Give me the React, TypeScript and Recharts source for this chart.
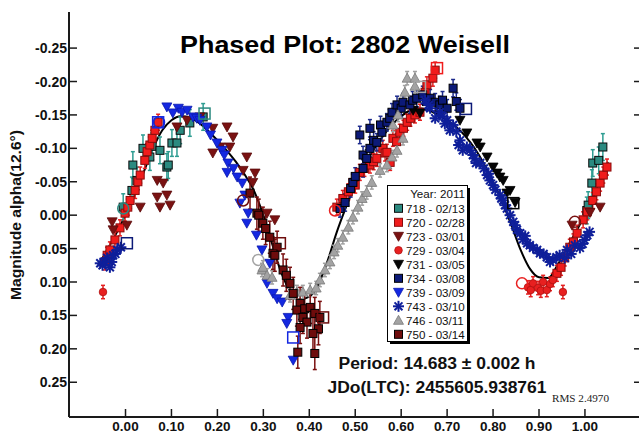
import React from 'react';
import { ComposedChart, Scatter, Line, XAxis, YAxis, ErrorBar } from 'recharts';

type P = [number, number];

const xTicks = [0, 0.1, 0.2, 0.3, 0.4, 0.5, 0.6, 0.7, 0.8, 0.9, 1.0];
const yTicks = [-0.25, -0.2, -0.15, -0.1, -0.05, 0, 0.05, 0.1, 0.15, 0.2, 0.25];
const xDomain: [number, number] = [-0.123, 1.122];
const yDomain: [number, number] = [-0.304, 0.302];

const fitCurve: P[] = [
  [-0.05, 0.064], [-0.04, 0.052], [-0.02, 0.027], [0, 0], [0.02, -0.03], [0.04, -0.065], [0.06, -0.1],
  [0.08, -0.127], [0.1, -0.142], [0.12, -0.148], [0.14, -0.146], [0.16, -0.138], [0.18, -0.126],
  [0.2, -0.112], [0.22, -0.097], [0.24, -0.08], [0.26, -0.06], [0.28, -0.036], [0.3, 0.0],
  [0.32, 0.045], [0.34, 0.088], [0.36, 0.115], [0.38, 0.126], [0.4, 0.122], [0.42, 0.103],
  [0.44, 0.068], [0.46, 0.025], [0.48, -0.012], [0.5, -0.045], [0.52, -0.073], [0.54, -0.098],
  [0.56, -0.118], [0.58, -0.135], [0.6, -0.148], [0.62, -0.157], [0.64, -0.16], [0.66, -0.157],
  [0.68, -0.15], [0.7, -0.142], [0.72, -0.132], [0.74, -0.118], [0.76, -0.1], [0.78, -0.077],
  [0.8, -0.05], [0.82, -0.02], [0.84, 0.015], [0.86, 0.052], [0.88, 0.08], [0.9, 0.093],
  [0.92, 0.094], [0.94, 0.075], [0.96, 0.05], [0.98, 0.025], [1.0, 0.0], [1.02, -0.03],
  [1.04, -0.065], [1.05, -0.08],
];

const s718: P[] = [
  [-0.005, -0.012], [0.014, -0.037], [0.025, -0.052], [0.016, -0.075], [0.038, -0.1], [0.053, -0.087],
  [0.058, -0.103], [0.075, -0.097], [0.09, -0.072], [0.093, -0.075], [0.101, -0.108], [0.112, -0.108],
  [0.119, -0.127], [0.14, -0.138], [0.169, -0.147], [1.004, -0.007], [1.007, -0.015], [1.015, -0.048],
  [1.017, -0.078], [1.03, -0.082], [1.039, -0.102],
];
const s720: P[] = [
  [-0.045, 0.07], [-0.04, 0.06], [-0.034, 0.052], [-0.023, 0.037], [-0.012, 0.019], [-0.001, -0.003],
  [0.005, -0.012], [0.01, -0.022], [0.021, -0.037], [0.027, -0.05], [0.032, -0.06], [0.042, -0.082],
  [0.047, -0.095], [0.053, -0.105], [0.058, -0.115], [0.064, -0.127], [0.071, -0.139],
  [0.46, -0.012], [0.473, -0.025], [0.485, -0.035], [0.495, -0.049], [0.5, -0.045], [0.51, -0.064],
  [0.52, -0.07], [0.532, -0.075], [0.54, -0.08], [0.547, -0.085], [0.56, -0.1], [0.565, -0.093],
  [0.569, -0.094], [0.576, -0.079], [0.582, -0.115], [0.59, -0.11], [0.597, -0.124], [0.605, -0.13],
  [0.613, -0.139], [0.62, -0.145], [0.63, -0.15], [0.641, -0.154], [0.652, -0.184], [0.656, -0.195],
  [0.669, -0.205], [0.674, -0.217],
  [0.939, 0.087], [0.948, 0.078], [0.956, 0.064], [0.967, 0.048], [0.975, 0.04], [0.983, 0.027],
  [0.996, 0.007], [1.005, -0.005], [1.017, -0.022], [1.025, -0.035], [1.033, -0.048], [1.04, -0.06],
  [1.048, -0.072],
];
const s723: P[] = [
  [-0.029, 0.01], [-0.027, 0.022], [0.003, 0.015], [0.032, -0.012], [0.069, -0.052], [0.082, -0.048],
  [0.069, -0.027], [0.09, -0.03], [0.075, -0.012], [0.097, -0.015], [0.112, -0.132], [0.134, -0.142],
  [0.162, -0.147], [0.19, -0.13], [0.221, -0.132], [0.234, -0.117], [0.227, -0.102], [0.206, -0.102],
  [0.19, -0.093], [0.264, -0.087], [0.256, -0.067], [0.282, -0.063], [0.277, -0.049], [0.308, -0.003],
  [0.325, 0.007], [0.972, 0.015], [1.011, -0.004], [1.033, -0.012],
];
const s729: P[] = [
  [0.876, 0.108], [0.882, 0.112], [0.887, 0.102], [0.898, 0.109], [0.904, 0.113], [0.909, 0.1],
  [0.917, 0.112], [0.924, 0.103], [0.93, 0.097], [0.952, 0.115], [-0.049, 0.115],
];
const s731: P[] = [
  [0.626, -0.157], [0.641, -0.153], [0.684, -0.15], [0.728, -0.142], [0.743, -0.123], [0.765, -0.108],
  [0.772, -0.102], [0.787, -0.087], [0.8, -0.072], [0.809, -0.063], [0.815, -0.057], [0.822, -0.052],
  [0.837, -0.037], [0.83, -0.033], [0.848, -0.019],
];
const s734: P[] = [
  [0.467, -0.01], [0.478, -0.019], [0.49, -0.04], [0.495, -0.049], [0.5, -0.058], [0.517, -0.07],
  [0.517, -0.09], [0.525, -0.085], [0.532, -0.1], [0.51, -0.12], [0.54, -0.112], [0.547, -0.109],
  [0.532, -0.13], [0.555, -0.135], [0.558, -0.124], [0.569, -0.139], [0.575, -0.145], [0.58, -0.154],
  [0.591, -0.165], [0.6, -0.16], [0.604, -0.169], [0.619, -0.165], [0.625, -0.172], [0.634, -0.175],
  [0.647, -0.18], [0.655, -0.17], [0.663, -0.175], [0.674, -0.169], [0.684, -0.165], [0.69, -0.172],
  [0.7, -0.16], [0.713, -0.19], [0.72, -0.17], [0.728, -0.16],
];
const s739: P[] = [
  [0.09, -0.162], [0.103, -0.153], [0.115, -0.16], [0.123, -0.154], [0.134, -0.157], [0.147, -0.147],
  [0.155, -0.145], [0.162, -0.142], [0.177, -0.132], [0.185, -0.12], [0.199, -0.108], [0.21, -0.097],
  [0.215, -0.09], [0.223, -0.078], [0.221, -0.064], [0.235, -0.07], [0.243, -0.057], [0.254, -0.048],
  [0.249, -0.018], [0.26, -0.03], [0.267, -0.003], [0.264, 0.012], [0.285, 0.03], [0.297, 0.052],
  [0.314, 0.072], [0.308, 0.102], [0.321, 0.117], [0.33, 0.125], [0.341, 0.13], [0.354, 0.153],
  [0.351, 0.162], [0.365, 0.217],
];
const s743: P[] = [
  [-0.055, 0.072], [-0.05, 0.075], [-0.045, 0.07], [-0.04, 0.064], [-0.034, 0.078], [-0.03, 0.07],
  [-0.027, 0.06], [-0.022, 0.058], [-0.018, 0.052], [-0.01, 0.048],
  [0.652, -0.172], [0.66, -0.165], [0.663, -0.16], [0.674, -0.145], [0.684, -0.154], [0.69, -0.148],
  [0.695, -0.137], [0.7, -0.142], [0.706, -0.127], [0.713, -0.135], [0.72, -0.125], [0.725, -0.105],
  [0.728, -0.112], [0.734, -0.097], [0.743, -0.102], [0.75, -0.097], [0.756, -0.09], [0.76, -0.085],
  [0.763, -0.078], [0.772, -0.078], [0.78, -0.07], [0.787, -0.06], [0.79, -0.062], [0.793, -0.052],
  [0.8, -0.045], [0.805, -0.038], [0.815, -0.03], [0.818, -0.025], [0.822, -0.022], [0.826, -0.015],
  [0.83, -0.01], [0.837, 0.0], [0.844, 0.01], [0.848, 0.015], [0.852, 0.022], [0.859, 0.027],
  [0.865, 0.036], [0.87, 0.031], [0.874, 0.042], [0.88, 0.045], [0.887, 0.049], [0.896, 0.052],
  [0.902, 0.057], [0.91, 0.058], [0.917, 0.063], [0.924, 0.07], [0.93, 0.067], [0.938, 0.063],
  [0.945, 0.06], [0.956, 0.064], [0.961, 0.052], [0.97, 0.058], [0.978, 0.045], [0.989, 0.049],
  [0.995, 0.043], [0.999, 0.037], [1.005, 0.03], [1.01, 0.025],
];
const s746: P[] = [
  [0.297, 0.082], [0.299, 0.078], [0.308, 0.09], [0.319, 0.093], [0.358, 0.12], [0.373, 0.115],
  [0.386, 0.115], [0.402, 0.112], [0.415, 0.109], [0.423, 0.097], [0.434, 0.082], [0.445, 0.07],
  [0.454, 0.055], [0.462, 0.045], [0.473, 0.033], [0.485, 0.018], [0.495, 0.003], [0.506, -0.012],
  [0.515, -0.025], [0.525, -0.034], [0.536, -0.049], [0.554, -0.067], [0.569, -0.075], [0.58, -0.087],
  [0.582, -0.135], [0.591, -0.097], [0.593, -0.15], [0.604, -0.115], [0.608, -0.184], [0.613, -0.205],
  [0.63, -0.205], [0.63, -0.193],
];
const s750: P[] = [
  [0.271, -0.033], [0.286, -0.003], [0.29, 0.0], [0.299, 0.012], [0.305, 0.02], [0.314, 0.033],
  [0.33, 0.048], [0.321, 0.057], [0.325, 0.06], [0.343, 0.082], [0.35, 0.09], [0.358, 0.102],
  [0.365, 0.117], [0.38, 0.132], [0.373, 0.142], [0.386, 0.153], [0.39, 0.14], [0.395, 0.16],
  [0.402, 0.138], [0.412, 0.147], [0.423, 0.153], [0.42, 0.17], [0.38, 0.168], [0.408, 0.177],
  [0.375, 0.205], [0.412, 0.207],
];

// session-start markers (hollow symbols)
const openCircles = [
  { s: '718', x: -0.005, y: -0.01 }, { s: '729', x: 0.863, y: 0.102 }, { s: '729', x: 0.456, y: -0.007 },
  { s: '723', x: 0.978, y: 0.01 }, { s: '750', x: 0.256, y: -0.022 }, { s: '746', x: 0.289, y: 0.067 },
  { s: '739', x: 0.073, y: -0.139 },
];
const openSquares = [
  { s: '720', x: 0.678, y: -0.22 }, { s: '731', x: 0.844, y: -0.018 }, { s: '734', x: 0.003, y: 0.042 },
  { s: '734', x: 0.741, y: -0.159 }, { s: '739', x: 0.365, y: 0.183 }, { s: '746', x: 0.641, y: -0.192 },
  { s: '750', x: 0.336, y: 0.042 }, { s: '750', x: 0.43, y: 0.153 }, { s: '739', x: 0.071, y: -0.139 },
  { s: '718', x: 0.172, y: -0.152 },
];

type Kind = 'sq' | 'td' | 'tu' | 'ci' | 'as';
interface Cfg { id: string; label: string; pts: P[]; kind: Kind; fill: string; stroke: string; err?: number; errColor?: string; }

const SERIES: Cfg[] = [
  { id: '718', label: '718 - 02/13', pts: s718, kind: 'sq', fill: '#2b8a80', stroke: '#0a0a0a', err: 0.02, errColor: '#2f9d92' },
  { id: '720', label: '720 - 02/28', pts: s720, kind: 'sq', fill: '#f01c1c', stroke: '#8a0c0c', err: 0.012, errColor: '#e52020' },
  { id: '723', label: '723 - 03/01', pts: s723, kind: 'td', fill: '#7a1212', stroke: '#5a0a0a' },
  { id: '729', label: '729 - 03/04', pts: s729, kind: 'ci', fill: '#e82020', stroke: '#b01010', err: 0.01, errColor: '#e52020' },
  { id: '731', label: '731 - 03/05', pts: s731, kind: 'td', fill: '#050505', stroke: '#000000' },
  { id: '734', label: '734 - 03/08', pts: s734, kind: 'sq', fill: '#0c1a78', stroke: '#000000', err: 0.013, errColor: '#1c2a8c' },
  { id: '739', label: '739 - 03/09', pts: s739, kind: 'td', fill: '#1428e0', stroke: '#0a18b0' },
  { id: '743', label: '743 - 03/10', pts: s743, kind: 'as', fill: '#0f1f9a', stroke: '#0f1f9a' },
  { id: '746', label: '746 - 03/11', pts: s746, kind: 'tu', fill: '#a3a3a3', stroke: '#7a7a7a', err: 0.01, errColor: '#a0a0a0' },
  { id: '750', label: '750 - 03/14', pts: s750, kind: 'sq', fill: '#6e0c0c', stroke: '#000000', err: 0.024, errColor: '#7a1010' },
];

const colorOf = (id: string) => {
  const c = SERIES.find((s) => s.id === id);
  return c ? c.fill : '#000';
};

function Marker({ kind, cx, cy, fill, stroke, k = 1 }: { kind: Kind; cx: number; cy: number; fill: string; stroke: string; k?: number }) {
  if (kind === 'sq') {
    const s = 8 * k;
    return <rect x={cx - s / 2} y={cy - s / 2} width={s} height={s} fill={fill} stroke={stroke} strokeWidth={1} />;
  }
  if (kind === 'td') {
    const w = 5 * k;
    return <polygon points={`${cx - w},${cy - 4 * k} ${cx + w},${cy - 4 * k} ${cx},${cy + 5 * k}`} fill={fill} stroke={stroke} strokeWidth={0.8} />;
  }
  if (kind === 'tu') {
    const w = 5 * k;
    return <polygon points={`${cx - w},${cy + 4 * k} ${cx + w},${cy + 4 * k} ${cx},${cy - 5 * k}`} fill={fill} stroke={stroke} strokeWidth={0.8} />;
  }
  if (kind === 'ci') {
    return <circle cx={cx} cy={cy} r={3.8 * k} fill={fill} stroke={stroke} strokeWidth={0.8} />;
  }
  const r = 5.5 * k;
  const d = r * 0.72;
  return (
    <g stroke={fill} strokeWidth={2}>
      <line x1={cx - r} y1={cy} x2={cx + r} y2={cy} />
      <line x1={cx} y1={cy - r} x2={cx} y2={cy + r} />
      <line x1={cx - d} y1={cy - d} x2={cx + d} y2={cy + d} />
      <line x1={cx - d} y1={cy + d} x2={cx + d} y2={cy - d} />
    </g>
  );
}

const makeShape = (c: Cfg) => (props: any) => {
  const { cx, cy } = props;
  if (cx == null || cy == null || isNaN(cx) || isNaN(cy)) return <g />;
  return <Marker kind={c.kind} cx={cx} cy={cy} fill={c.fill} stroke={c.stroke} />;
};

const OpenCircle = (props: any) => {
  const { cx, cy, payload } = props;
  if (cx == null || cy == null) return <g />;
  return <circle cx={cx} cy={cy} r={5.5} fill="none" stroke={colorOf(payload.s)} strokeWidth={1.5} />;
};
const OpenSquare = (props: any) => {
  const { cx, cy, payload } = props;
  if (cx == null || cy == null) return <g />;
  return <rect x={cx - 5.5} y={cy - 5.5} width={11} height={11} fill="none" stroke={colorOf(payload.s)} strokeWidth={1.5} />;
};

const fmt = (v: number) => v.toFixed(2);
const AX = '#1a1a1a';
const FONT = "'Liberation Sans', Arial, sans-serif";

const XTickBottom = (p: any) => (
  <g>
    <line x1={p.x} y1={p.y} x2={p.x} y2={p.y - 8} stroke={AX} strokeWidth={1.5} />
    <text x={p.x} y={p.y + 14} textAnchor="middle" fontSize={13.5} fontWeight="bold" fill="#111" fontFamily={FONT}>
      {fmt(p.payload.value)}
    </text>
  </g>
);
const XTickTop = (p: any) => <line x1={p.x} y1={p.y} x2={p.x} y2={p.y + 7} stroke={AX} strokeWidth={1.5} />;
const YTickLeft = (p: any) => (
  <g>
    <line x1={p.x} y1={p.y} x2={p.x + 8} y2={p.y} stroke={AX} strokeWidth={1.5} />
    <text x={p.x - 2} y={p.y + 5} textAnchor="end" fontSize={14} fontWeight="bold" fill="#111" fontFamily={FONT}>
      {fmt(p.payload.value)}
    </text>
  </g>
);
const YTickRight = (p: any) => <line x1={p.x} y1={p.y} x2={p.x - 7} y2={p.y} stroke={AX} strokeWidth={1.5} />;

const toObj = (pts: P[], e?: number) => pts.map(([x, y]) => ({ x, y, e: e ?? 0 }));
const curveData = fitCurve.map(([x, y]) => ({ x, y }));

export default function App() {
  return (
    <div style={{ position: 'absolute', left: 0, top: 0, width: 639, height: 434, overflow: 'hidden', background: '#fff' }}>
      <ComposedChart width={642} height={434} margin={{ top: 12, right: 0, bottom: 0, left: 0 }}>
        <XAxis
          type="number" dataKey="x" domain={xDomain} allowDataOverflow ticks={xTicks}
          height={17} tickSize={0} tickMargin={0} tickLine={false}
          axisLine={{ stroke: AX, strokeWidth: 2 }} tick={(p: any) => <XTickBottom {...p} />}
          interval={0}
        />
        <XAxis
          xAxisId="t" orientation="top" type="number" dataKey="x" domain={xDomain} allowDataOverflow ticks={xTicks}
          height={0} tickSize={0} tickMargin={0} tickLine={false}
          axisLine={{ stroke: AX, strokeWidth: 2 }} tick={(p: any) => <XTickTop {...p} />}
          interval={0}
        />
        <YAxis
          type="number" dataKey="y" domain={yDomain} allowDataOverflow reversed ticks={yTicks}
          width={69} tickSize={0} tickMargin={0} tickLine={false}
          axisLine={{ stroke: AX, strokeWidth: 2 }} tick={(p: any) => <YTickLeft {...p} />}
          interval={0}
        />
        <YAxis
          yAxisId="r" orientation="right" type="number" dataKey="y" domain={yDomain} allowDataOverflow reversed ticks={yTicks}
          width={1} tickSize={0} tickMargin={0} tickLine={false}
          axisLine={{ stroke: AX, strokeWidth: 2 }} tick={(p: any) => <YTickRight {...p} />}
          interval={0}
        />
        <Line data={curveData} dataKey="y" type="monotone" stroke="#000" strokeWidth={2} dot={false} isAnimationActive={false} />
        {SERIES.map((c) => (
          <Scatter key={c.id} name={c.label} data={toObj(c.pts, c.err)} dataKey="y" shape={makeShape(c)} isAnimationActive={false}>
            {c.err ? <ErrorBar dataKey="e" direction="y" width={2} stroke={c.errColor} strokeWidth={1.5} /> : null}
          </Scatter>
        ))}
        <Scatter data={openCircles} dataKey="y" shape={OpenCircle} isAnimationActive={false} />
        <Scatter data={openSquares} dataKey="y" shape={OpenSquare} isAnimationActive={false} />
      </ComposedChart>

      <svg width={639} height={434} style={{ position: 'absolute', left: 0, top: 0, pointerEvents: 'none' }}>
        <text x={345} y={53} textAnchor="middle" fontSize={23} fontWeight="bold" fontFamily={FONT} fill="#000" textLength={330} lengthAdjust="spacingAndGlyphs">
          Phased Plot: 2802 Weisell
        </text>
        <text transform="translate(21,215) rotate(-90)" textAnchor="middle" fontSize={14} fontWeight="bold" fontFamily={FONT} fill="#111" textLength={170} lengthAdjust="spacingAndGlyphs">
          Magnitude alpha(12.6°)
        </text>
        <text x={437} y={369} textAnchor="middle" fontSize={16} fontWeight="bold" fontFamily={FONT} fill="#111" textLength={197} lengthAdjust="spacingAndGlyphs">
          Period: 14.683 ± 0.002 h
        </text>
        <text x={437} y={393} textAnchor="middle" fontSize={16} fontWeight="bold" fontFamily={FONT} fill="#111" textLength={219} lengthAdjust="spacingAndGlyphs">
          JDo(LTC): 2455605.938761
        </text>
        <text x={552} y={402} fontSize={10} fontFamily="'Liberation Serif', 'Times New Roman', serif" fill="#222" textLength={57} lengthAdjust="spacingAndGlyphs">
          RMS 2.4970
        </text>

        {/* legend */}
        <rect x={390} y={188} width={80} height={156} fill="#000" />
        <rect x={387.5} y={185.5} width={80} height={156} fill="#fff" stroke="#000" strokeWidth={1} />
        <text x={465} y={198} textAnchor="end" fontSize={11.6} fontFamily={FONT} fill="#111">Year: 2011</text>
        {SERIES.map((c, i) => {
          const cy = 208.3 + i * 14.0;
          return (
            <g key={c.id}>
              <Marker kind={c.kind} cx={398.5} cy={cy} fill={c.fill} stroke={c.stroke} k={1} />
              <text x={406} y={cy + 4.2} fontSize={11.6} fontFamily={FONT} fill="#111">{c.label}</text>
            </g>
          );
        })}
      </svg>
    </div>
  );
}
